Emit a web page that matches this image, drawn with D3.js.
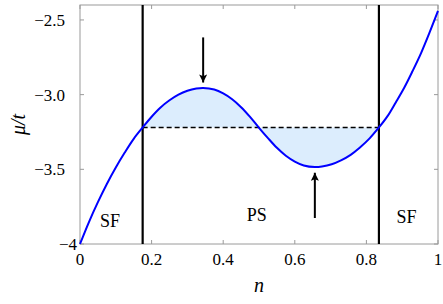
<!DOCTYPE html>
<html>
<head>
<meta charset="utf-8">
<script src="https://cdn.jsdelivr.net/npm/d3@7"></script>
<style>
  body { margin: 0; background: #fff; }
  text { font-family: "Liberation Serif", "Times New Roman", serif; }
</style>
</head>
<body>
<div id="chart"></div>
<script>
// chemical potential mu/t vs filling n
var nVals  = [0, 0.025, 0.05, 0.075, 0.1, 0.125, 0.15, 0.175, 0.2, 0.225, 0.25, 0.275, 0.3, 0.325, 0.344,
              0.375, 0.4, 0.425, 0.45, 0.475, 0.5, 0.525, 0.55, 0.575, 0.6, 0.625, 0.656,
              0.676, 0.703, 0.729, 0.756, 0.782, 0.809, 0.835, 0.859, 0.882, 0.906, 0.929, 0.953, 0.976, 1];
var muVals = [-4, -3.853, -3.72, -3.598, -3.488, -3.388, -3.296, -3.22, -3.148, -3.086, -3.038, -3.0, -2.974, -2.959, -2.955,
              -2.966, -2.992, -3.031, -3.084, -3.149, -3.222, -3.291, -3.356, -3.409, -3.448, -3.474, -3.485,
              -3.481, -3.466, -3.44, -3.403, -3.354, -3.293, -3.22, -3.144, -3.052, -2.952, -2.842, -2.72, -2.587, -2.44];

var phaseBounds = [0.175, 0.835];   // vertical lines
var coexMu = -3.22;                 // dashed Maxwell line

var arrowN    = [0.344, 0.656];
var arrowFrom = [-2.617, -3.826];
var arrowTo   = [-2.919, -3.523];

var regionText = ["SF", "PS", "SF"];
var regionN    = [0.084, 0.494, 0.912];
var regionMu   = [-3.886, -3.846, -3.859];

var xTicks = [0, 0.2, 0.4, 0.6, 0.8, 1];
var xTickLabels = ["0", "0.2", "0.4", "0.6", "0.8", "1"];
var yTicks = [-2.5, -3.0, -3.5, -4];
var yTickLabels = ["\u22122.5", "\u22123.0", "\u22123.5", "\u22124"];

function drawChart(){

var W = 443, H = 304;
var pl = 80, pr = 438, pt = 5, pb = 244;   // plot box edges

var svg = d3.select("#chart").append("svg")
    .attr("width", W)
    .attr("height", H)
    .attr("font-family", "Liberation Serif, serif");

var x = d3.scaleLinear().domain([0, 1]).range([pl, pr]);
var y = d3.scaleLinear().domain([-4, -2.4]).range([pb, pt]);

var pts = nVals.map(function(n, i){ return [n, muVals[i]]; });

// shaded region between curve and dashed line
var inside = pts.filter(function(p){ return p[0] >= phaseBounds[0] && p[0] <= phaseBounds[1]; });
var area = d3.area()
    .x(function(d){ return x(d[0]); })
    .y0(y(coexMu))
    .y1(function(d){ return y(d[1]); })
    .curve(d3.curveCatmullRom.alpha(0.5));
svg.append("path")
    .datum(inside)
    .attr("d", area)
    .attr("fill", "#dcedfd");

// frame
svg.append("rect")
    .attr("x", pl).attr("y", pt)
    .attr("width", pr - pl).attr("height", pb - pt)
    .attr("fill", "none")
    .attr("stroke", "#9a9a9a")
    .attr("stroke-width", 1);

// ticks (inside, all four sides)
var tlen = 4;
xTicks.forEach(function(t){
  svg.append("line").attr("x1", x(t)).attr("x2", x(t)).attr("y1", pb).attr("y2", pb - tlen)
     .attr("stroke", "#9a9a9a");
  svg.append("line").attr("x1", x(t)).attr("x2", x(t)).attr("y1", pt).attr("y2", pt + tlen)
     .attr("stroke", "#9a9a9a");
});
yTicks.forEach(function(t){
  svg.append("line").attr("x1", pl).attr("x2", pl + tlen).attr("y1", y(t)).attr("y2", y(t))
     .attr("stroke", "#9a9a9a");
  svg.append("line").attr("x1", pr).attr("x2", pr - tlen).attr("y1", y(t)).attr("y2", y(t))
     .attr("stroke", "#9a9a9a");
});

// tick labels
svg.selectAll(".xlab").data(xTicks).enter().append("text")
    .attr("class", "xlab")
    .attr("x", function(d){ return x(d); })
    .attr("y", pb + 21)
    .attr("text-anchor", "middle")
    .attr("font-size", 17)
    .text(function(d, i){ return xTickLabels[i]; });

svg.selectAll(".ylab").data(yTicks).enter().append("text")
    .attr("class", "ylab")
    .attr("x", function(d){ return d == -4 ? pl - 3 : pl - 15; })
    .attr("y", function(d){ return y(d) + 6; })
    .attr("text-anchor", "end")
    .attr("font-size", 17)
    .text(function(d, i){ return yTickLabels[i]; });

// dashed coexistence line
svg.append("line")
    .attr("x1", x(phaseBounds[0])).attr("x2", x(phaseBounds[1]))
    .attr("y1", y(coexMu)).attr("y2", y(coexMu))
    .attr("stroke", "black")
    .attr("stroke-width", 1.4)
    .attr("stroke-dasharray", "5,3");

// phase boundaries
phaseBounds.forEach(function(b){
  svg.append("line")
    .attr("x1", x(b)).attr("x2", x(b))
    .attr("y1", pt).attr("y2", pb)
    .attr("stroke", "black")
    .attr("stroke-width", 2.2);
});

// mu(n) curve
var line = d3.line()
    .x(function(d){ return x(d[0]); })
    .y(function(d){ return y(d[1]); })
    .curve(d3.curveCatmullRom.alpha(0.5));
svg.append("path")
    .datum(pts)
    .attr("d", line)
    .attr("fill", "none")
    .attr("stroke", "#0000ff")
    .attr("stroke-width", 2);

// arrows
svg.append("defs").append("marker")
    .attr("id", "head")
    .attr("viewBox", "0 0 10 10")
    .attr("refX", 10).attr("refY", 5)
    .attr("markerWidth", 4.5).attr("markerHeight", 4)
    .attr("markerUnits", "strokeWidth")
    .attr("orient", "auto")
  .append("path")
    .attr("d", "M0,0 L10,5 L0,10 L2,5 Z")
    .attr("fill", "black");

arrowN.forEach(function(n, i){
  svg.append("line")
    .attr("x1", x(n)).attr("x2", x(n))
    .attr("y1", y(arrowFrom[i])).attr("y2", y(arrowTo[i]))
    .attr("stroke", "black")
    .attr("stroke-width", 2)
    .attr("marker-end", "url(#head)");
});

// region labels
regionText.forEach(function(t, i){
  svg.append("text")
    .attr("x", x(regionN[i]))
    .attr("y", y(regionMu[i]))
    .attr("text-anchor", "middle")
    .attr("font-size", 18)
    .text(t);
});

// axis titles
svg.append("text")
    .attr("x", (pl + pr) / 2)
    .attr("y", 292)
    .attr("text-anchor", "middle")
    .attr("font-size", 20)
    .attr("font-style", "italic")
    .text("n");

svg.append("text")
    .attr("transform", "translate(25," + ((pt + pb) / 2) + ") rotate(-90)")
    .attr("text-anchor", "middle")
    .attr("font-size", 20)
    .attr("font-style", "italic")
    .text("\u03bc/t");
}

drawChart();
</script>
</body>
</html>
